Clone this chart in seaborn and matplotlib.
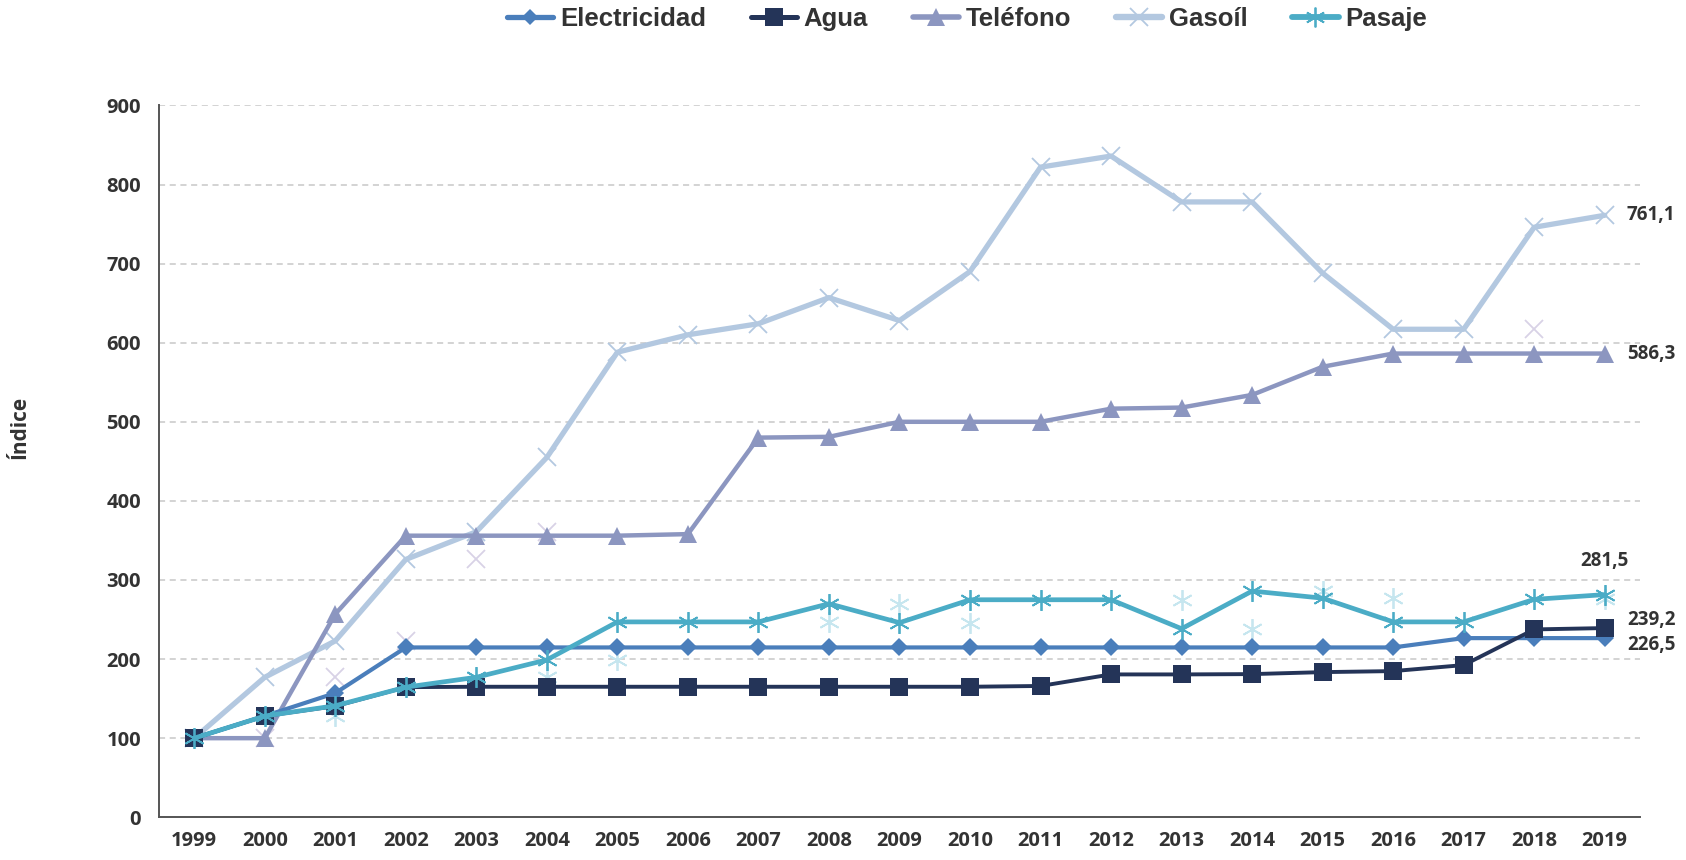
import numpy as np
import pandas as pd
import seaborn as sns
import matplotlib.pyplot as plt
from matplotlib.lines import Line2D

# Índices de precios (base 1999 = 100)
years = [str(y) for y in range(1999, 2020)]
electricidad = [100, 128, 157, 214.7, 214.7, 214.7, 214.7, 214.7, 214.7, 214.7, 214.7,
                214.7, 214.7, 214.7, 214.7, 214.7, 214.7, 214.7, 226.5, 226.5, 226.5]
agua = [100, 128, 140.5, 164.5, 165, 165, 165, 165, 165, 165, 165,
        165, 166, 180.6, 180.6, 181, 183.5, 184.8, 192.4, 237.5, 239.2]
telefono = [100, 100, 257, 356, 356, 356, 356, 358, 480, 481, 500,
            500, 500, 516.6, 518, 534, 569.6, 586.3, 586.3, 586.3, 586.3]
gasoil = [100, 177, 223, 326, 361, 455, 588, 610, 624, 657, 628,
          690, 822, 836, 778, 778, 688, 617, 617, 746, 761.1]
pasaje = [100, 128, 141, 164.5, 177, 199, 247, 247, 247, 270, 246,
          275, 275, 275, 238.4, 286, 277, 247, 247, 275.5, 281.5]

series_names = ["Electricidad", "Agua", "Teléfono", "Gasoíl", "Pasaje"]
series_values = [electricidad, agua, telefono, gasoil, pasaje]
end_labels = ["226,5", "239,2", "586,3", "761,1", "281,5"]

# years that also show a faint marker with the previous year's reading
shadow_years_gasoil = ["2000", "2001", "2002", "2003", "2004", "2018"]
shadow_years_pasaje = ["2001", "2004", "2005", "2008", "2009", "2010",
                       "2013", "2014", "2015", "2016", "2019"]

styles = {
    "Electricidad": dict(color="#4a7ebb", marker="D", ms=9, lw=3.0, mew=0),
    "Agua": dict(color="#243458", marker="s", ms=13, lw=2.8, mew=0),
    "Teléfono": dict(color="#8c96c0", marker="^", ms=13, lw=3.2, mew=0),
    "Gasoíl": dict(color="#b3c8e0", marker="x", ms=13, lw=3.8, mew=1.3),
    "Pasaje": dict(color="#4bacc6", marker=(6, 2, 0), ms=15, lw=3.4, mew=1.3),
}

sns.set_theme(style="white")
plt.rcParams["font.family"] = ["Open Sans", "DejaVu Sans"]

fig = plt.figure(figsize=(16.86, 8.6), dpi=100)
ax = fig.add_axes([0.0943, 0.0497, 0.8784, 0.8277])

xpos = np.arange(len(years))

shadow = [
    (gasoil, shadow_years_gasoil, dict(color="#d8d2e6", marker="x", ms=13, mew=1.3)),
    (pasaje, shadow_years_pasaje, dict(color="#c6e6ef", marker=(6, 2, 0), ms=15, mew=1.3)),
]
for vals, yrs, st in shadow:
    idx = [years.index(y) for y in yrs]
    ax.plot(idx, [vals[i - 1] for i in idx], ls="none", zorder=1, **st)

df = pd.DataFrame({"x": np.tile(xpos, len(series_names)),
                   "valor": np.concatenate(series_values),
                   "serie": np.repeat(series_names, len(years))})

order_draw = ["Gasoíl", "Teléfono", "Electricidad", "Agua", "Pasaje"]
for z, name in enumerate(order_draw):
    st = styles[name]
    sub = df[df["serie"] == name]
    sns.lineplot(data=sub, x="x", y="valor", ax=ax, color=st["color"],
                 marker=st["marker"], markersize=st["ms"], linewidth=st["lw"],
                 markeredgewidth=st["mew"], markeredgecolor=st["color"],
                 zorder=3 + z, legend=False)

ax.set_xlim(-0.5, len(years) - 0.5)
ax.set_ylim(0, 900)
ax.set_yticks(range(0, 901, 100))
ax.set_xticks(xpos)
ax.set_xticklabels(years)
ax.set_xticks(np.arange(-0.5, len(years), 1), minor=True)
ax.tick_params(axis="x", which="major", length=0, pad=10)
ax.tick_params(axis="x", which="minor", length=7, width=1.3, color="#555555", direction="out")
ax.tick_params(axis="y", length=7, width=1.3, color="#555555", direction="out", pad=6)
for lbl in ax.get_xticklabels() + ax.get_yticklabels():
    lbl.set_fontsize(14.5)
    lbl.set_fontweight("bold")
    lbl.set_color("#333333")

ax.yaxis.grid(True, color="#c8c8c8", linestyle=(0, (4, 3)), linewidth=1.1)
ax.xaxis.grid(False)
ax.set_axisbelow(True)
for s in ["top", "right"]:
    ax.spines[s].set_visible(False)
for s in ["left", "bottom"]:
    ax.spines[s].set_color("#555555")
    ax.spines[s].set_linewidth(1.4)

ax.set_xlabel("")
ax.set_ylabel("Índice", fontsize=15, fontweight="bold", color="#333333")
ax.yaxis.set_label_coords(-0.087, 0.547)

# value labels at the last year
last = len(years) - 1
for name, vals, txt in zip(series_names, series_values, end_labels):
    if name == "Pasaje":
        ax.annotate(txt, (last, vals[-1]), xytext=(0, 24), textcoords="offset points",
                    ha="center", va="center", fontsize=13.5, fontweight="bold", color="#333333")
    else:
        dy = 0
        if name == "Agua":
            dy = 6
        elif name == "Electricidad":
            dy = -5
        ax.annotate(txt, (last, vals[-1]), xytext=(16, dy), textcoords="offset points",
                    ha="left", va="center", fontsize=13.5, fontweight="bold", color="#333333")

handles = []
for name in series_names:
    st = styles[name]
    handles.append(Line2D([0], [0], color=st["color"], marker=st["marker"],
                          markersize=st["ms"] * 0.95, linewidth=st["lw"] + 0.8,
                          markeredgewidth=st["mew"], markeredgecolor=st["color"],
                          solid_capstyle="round"))
leg = fig.legend(handles, series_names, loc="center", bbox_to_anchor=(0.5735, 0.9774),
                 ncol=5, frameon=False, handlelength=1.8, handletextpad=0.25,
                 columnspacing=1.75,
                 prop={"family": "Liberation Sans", "weight": "bold", "size": 18.5})
for t in leg.get_texts():
    t.set_color("#333333")

fig.savefig("out.png", dpi=100)
